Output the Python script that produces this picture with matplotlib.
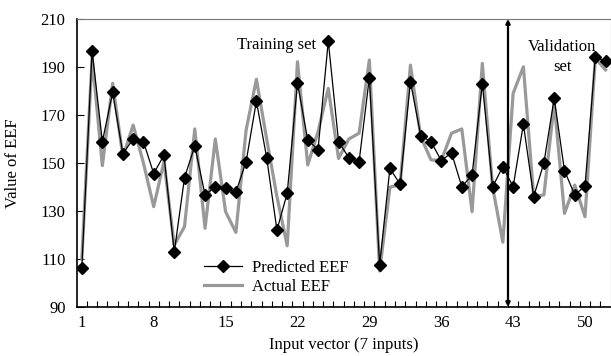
import numpy as np
import matplotlib
matplotlib.use("Agg")
import matplotlib.pyplot as plt

plt.rcParams['font.family'] = ['Liberation Serif', 'DejaVu Serif']

inputs = list(range(1, 53))
predicted = [106.1, 196.8, 158.9, 179.4, 153.9, 160.0, 158.9, 145.6, 153.3, 112.8,
             143.9, 157.1, 136.7, 140.1, 139.4, 137.8, 150.6, 175.8, 152.2, 122.1,
             137.4, 183.3, 159.6, 155.6, 200.8, 158.9, 152.2, 150.6, 185.6, 107.5,
             147.8, 141.1, 183.9, 161.4, 158.9, 151.0, 154.3, 140.1, 145.0, 183.1,
             140.1, 148.5, 140.1, 166.2, 136.0, 150.1, 177.0, 146.8, 136.7, 140.4,
             194.0, 192.5]
actual = [110.0, 194.0, 148.9, 183.2, 152.6, 165.8, 150.0, 131.8, 150.6, 115.8,
          123.5, 164.2, 122.8, 160.0, 129.7, 121.1, 163.8, 184.9, 160.0, 136.0,
          115.5, 192.2, 149.2, 163.0, 181.1, 151.9, 160.0, 162.4, 192.9, 105.0,
          139.9, 141.1, 190.8, 161.0, 151.3, 151.0, 162.4, 164.2, 129.7, 191.5,
          140.0, 117.0, 179.0, 190.1, 136.0, 136.7, 174.9, 129.0, 140.8, 127.6,
          193.6, 188.8]
xtick_labels = [1, 8, 15, 22, 29, 36, 43, 50]
yticks = [90, 110, 130, 150, 170, 190, 210]
boundary = 42.5

fig = plt.figure(figsize=(6.11, 3.56), dpi=100)
ax = fig.add_axes([0.1255, 0.1376, 0.874, 0.809])

ax.plot(inputs, actual, color='#999999', lw=2.3, label='Actual EEF', zorder=2)
ax.plot(inputs, predicted, color='black', lw=0.9, marker='D', ms=5.8,
        label='Predicted EEF', zorder=3)

ax.set_xlim(0.5, 52.5)
ax.set_ylim(90, 210)
ax.set_yticks(yticks)
ax.set_xticks(xtick_labels)
ax.set_xticks(np.arange(1.5, 52.5, 1), minor=True)
ax.tick_params(axis='x', which='major', length=0, pad=6, labelsize=12)
ax.tick_params(axis='x', which='minor', direction='in', length=4, width=0.8)
ax.tick_params(axis='y', direction='in', length=5, width=0.8, pad=8, labelsize=12)

for s in ['left', 'bottom']:
    ax.spines[s].set_color('black')
    ax.spines[s].set_linewidth(1.2)
for s in ['top', 'right']:
    ax.spines[s].set_color('#777777')
    ax.spines[s].set_linewidth(0.8)

ax.annotate('', xy=(boundary, 90), xytext=(boundary, 210),
            arrowprops=dict(arrowstyle='<|-|>', color='black', lw=1.6,
                            mutation_scale=6, shrinkA=0, shrinkB=0), zorder=4)

ax.text(20, 199, 'Training set', ha='center', va='center', fontsize=12)
ax.text(47.8, 194.2, 'Validation\nset', ha='center', va='center', fontsize=12,
        linespacing=1.35)

ax.set_xlabel('Input vector (7 inputs)', fontsize=12, labelpad=4)
ax.set_ylabel('Value of EEF', fontsize=12, labelpad=14)

h, l = ax.get_legend_handles_labels()
ax.legend([h[1], h[0]], [l[1], l[0]], loc='lower left', bbox_to_anchor=(0.22, 0.007),
          frameon=False, fontsize=12, handlelength=2.3, handletextpad=0.6,
          labelspacing=0.2, borderaxespad=0.2)

fig.savefig('out.png', dpi=100)
